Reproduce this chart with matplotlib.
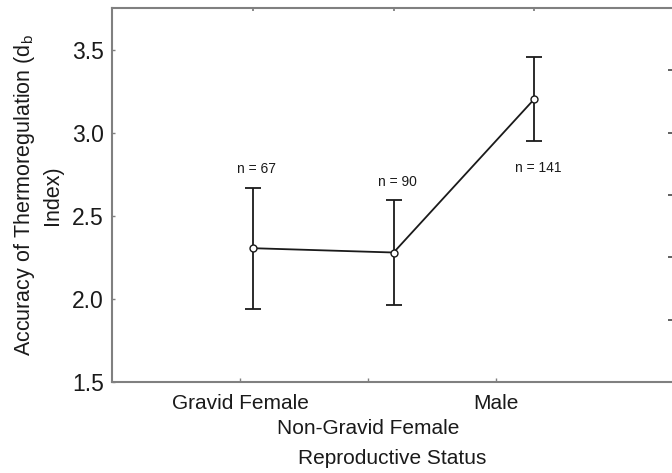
import matplotlib
matplotlib.use("Agg")
import matplotlib.pyplot as plt

plt.rcParams['font.family'] = ['Liberation Sans', 'DejaVu Sans']

groups = ['Gravid Female', 'Non-Gravid Female', 'Male']
means = [2.305, 2.279, 3.203]
errs = [0.365, 0.314, 0.253]
n_labels = ['n = 67', 'n = 90', 'n = 141']
# where the n label sits relative to the error bar: above (+1) or below (-1)
n_side = [1, 1, -1]

ink = '#1a1a1a'
spine_col = '#808080'

fig = plt.figure(figsize=(6.72, 4.73), dpi=100)
ax = fig.add_axes([112/672, 1 - 382/473, 1 - 112/672, 374/473])

pos = list(range(1, len(groups) + 1))
ax.errorbar(pos, means, yerr=errs, fmt='-o', color=ink, mfc='white', mec=ink,
            ms=5, lw=1.3, elinewidth=1.3, capsize=5.5, capthick=1.3, zorder=3)

for x, m, e, lab, side in zip(pos, means, errs, n_labels, n_side):
    end = m + side * e
    dy = 13 if side > 0 else -19.5
    ax.annotate(lab, (x, end), xytext=(2.5, dy), textcoords='offset points',
                ha='center', va='center', fontsize=10, color=ink)

ax.set_xlim(0, 560 / 140.8)
ax.set_ylim(1.5, 3.75)
ax.set_yticks([1.5, 2.0, 2.5, 3.0, 3.5])
ax.set_yticklabels(['1.5', '2.0', '2.5', '3.0', '3.5'])
ax.tick_params(axis='y', direction='in', length=2.5, width=1, color=spine_col,
               labelsize=16.5, pad=6, labelcolor=ink)

# data x ticks on the top spine, category labels on a rescaled bottom axis
ax.set_xticks(pos)
ax.tick_params(axis='x', which='both', bottom=False, labelbottom=False,
               top=True, direction='in', length=2.5, width=1.3, color=spine_col)

sec = ax.secondary_xaxis('bottom', functions=(lambda x: x * 1.1, lambda s: s / 1.1))
sec.set_xticks(pos)
sec.set_xticklabels(groups)
sec.tick_params(direction='in', length=3, width=1, color=spine_col,
                labelsize=15, pad=8.5, labelcolor=ink)
# stagger the middle label one line lower
sec.xaxis.get_major_ticks()[1].set_pad(26.5)
sec.spines['bottom'].set_visible(False)
sec.set_xlabel('Reproductive Status', fontsize=15, labelpad=8, color=ink)

rsec = ax.secondary_yaxis('right', functions=(lambda y: (y - 1.5) * 6 / 2.25,
                                              lambda s: s * 2.25 / 6 + 1.5))
rsec.set_yticks([1, 2, 3, 4, 5])
rsec.set_yticklabels([])
rsec.tick_params(direction='in', length=3, width=1.3, color='#555555')
rsec.spines['right'].set_visible(False)

for s in ['left', 'top', 'bottom']:
    ax.spines[s].set_color(spine_col)
    ax.spines[s].set_linewidth(1.5)
ax.spines['right'].set_visible(False)

ax.set_ylabel('Accuracy of Thermoregulation (d$_\\mathregular{b}$\nIndex)',
              fontsize=15.5, linespacing=1.35, labelpad=6, color=ink)

fig.savefig('out.png', dpi=100)
